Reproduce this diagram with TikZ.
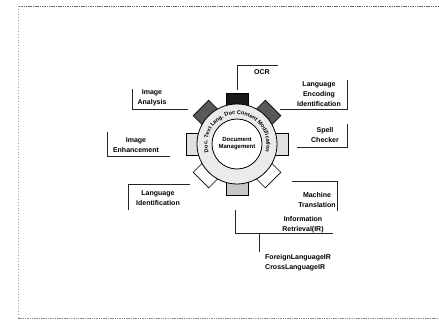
\documentclass[tikz,border=0pt]{standalone}
\usepackage{fontspec}
\setmainfont{Liberation Sans}
\usetikzlibrary{decorations.text}
\newcommand\ringfont{\fontsize{5.5}{6}\selectfont\bfseries}
\begin{document}
\begin{tikzpicture}[x=1pt,y=1pt,
  lbl/.style={font=\fontsize{7}{10}\selectfont\bfseries, align=center, inner sep=0pt},
  lead/.style={line width=0.6pt, black!85},
  tooth/.style={draw=black, line width=0.6pt},
  edgeline/.style={line width=0.9pt, black!60, dash pattern=on 1.5pt off 0.8pt}]
\useasboundingbox (0,0) rectangle (439,327);
% page border
\coordinate (tl) at (18,321);
\coordinate (tr) at (439,321);
\coordinate (bl) at (18,9);
\coordinate (br) at (439,9);
\draw[edgeline] (tr) -- (tl);
\draw[edgeline, black!35, dash pattern=on 0.8pt off 2pt] (tl) -- (bl);
\draw[edgeline, black!45] (bl) -- (br);

% gear
\coordinate (c) at (237,183);
\foreach \a/\f in {90/black!90, 45/black!65, 135/black!65, 0/black!12, 180/black!12, -90/black!22, -45/white, -135/white}
  \filldraw[tooth, fill=\f, shift={(c)}, rotate=\a] (30,-11) rectangle (51,11);
\filldraw[fill=black!8, line width=0.8pt] (c) circle[radius=40];
\filldraw[fill=white, line width=0.8pt] (c) circle[radius=25];
\node[font=\fontsize{6}{7}\selectfont\bfseries, align=center, inner sep=0pt] (dm) at (c) {Document\\Management};
\path[shift={(c)}, decorate, decoration={text along path, text align=center,
  text format delimiters={|}{|},
  text={|\ringfont|Doc. Text Lang. Doc Content Modification}}]
  (215:29.5) arc[start angle=215, end angle=-35, radius=29.5];

% OCR
\node[lbl] (ocr) at (262,255) {OCR};
\coordinate (ocrA) at (237,237);
\coordinate (ocrB) at (237,262);
\coordinate (ocrC) at (278,262);
\draw[lead] (ocrA) -- (ocrB) -- (ocrC);

% Language encoding identification
\node[lbl] (lei) at (319,233) {Language\\Encoding\\Identification};
\coordinate (leiA) at (280,218);
\coordinate (leiB) at (347,218);
\coordinate (leiC) at (347,247);
\draw[lead] (leiA) -- (leiB) -- (leiC);

% Spell checker
\node[lbl] (spl) at (325,192.5) {Spell\\Checker};
\coordinate (splA) at (297,180);
\coordinate (splB) at (347,180);
\coordinate (splC) at (347,203);
\draw[lead] (splA) -- (splB) -- (splC);

% Machine translation
\node[lbl] (mt) at (317,127.5) {Machine\\Translation};
\coordinate (mtA) at (292,146);
\coordinate (mtB) at (337,146);
\coordinate (mtC) at (337,116);
\draw[lead] (mtA) -- (mtB) -- (mtC);

% Information retrieval
\node[lbl] (ir) at (303,102.5) {Information\\Retrieval(IR)};
\coordinate (irA) at (235,117);
\coordinate (irB) at (235,94);
\coordinate (irC) at (333,94);
\coordinate (irD) at (259,94);
\coordinate (irE) at (259,75);
\draw[lead] (irA) -- (irB) -- (irC);
\draw[lead] (irD) -- (irE);
\node[lbl, anchor=west, align=left] (clir) at (265,64) {ForeignLanguageIR\\CrossLanguageIR};

% Image analysis
\node[lbl] (ia) at (152,229) {Image\\Analysis};
\coordinate (iaA) at (132,238);
\coordinate (iaB) at (132,218);
\coordinate (iaC) at (188,218);
\draw[lead] (iaA) -- (iaB) -- (iaC);

% Image enhancement
\node[lbl] (ie) at (136,181.5) {Image\\Enhancement};
\coordinate (ieA) at (107,195);
\coordinate (ieB) at (107,171);
\coordinate (ieC) at (170,171);
\draw[lead] (ieA) -- (ieB) -- (ieC);

% Language identification
\node[lbl] (li) at (158,129) {Language\\Identification};
\coordinate (liA) at (190,143);
\coordinate (liB) at (128,143);
\coordinate (liC) at (128,117);
\draw[lead] (liA) -- (liB) -- (liC);
\end{tikzpicture}
\end{document}
